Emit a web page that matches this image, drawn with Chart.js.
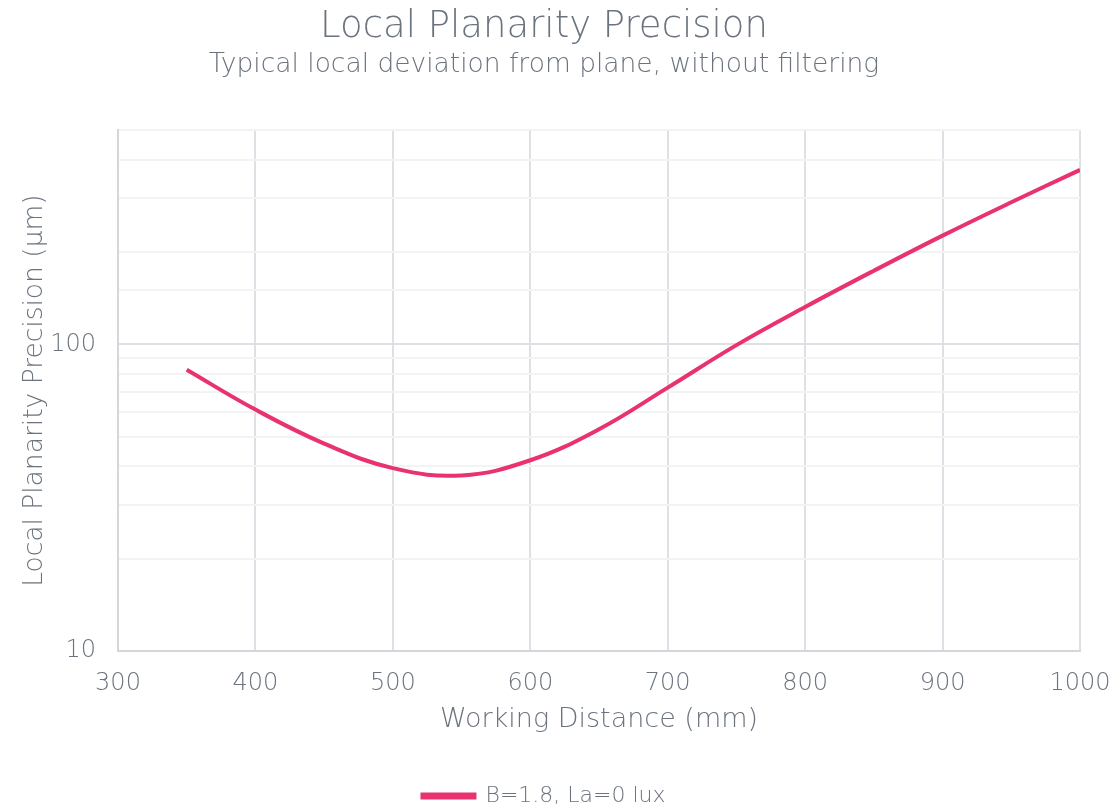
<!DOCTYPE html>
<html>
<head>
<meta charset="utf-8">
<script src="https://cdn.jsdelivr.net/npm/chart.js@4.4.0/dist/chart.umd.min.js"></script>
<style>
  html, body { margin: 0; padding: 0; background: #fff; }
  #wrap { width: 1117px; height: 810px; }
</style>
</head>
<body>
<div id="wrap"><canvas id="chart"></canvas></div>
<script>
// working distance (mm) and local planarity precision (µm)
const distances = [350, 400, 450, 500, 550, 600, 650, 700, 750, 800, 850, 900, 950, 1000];
const precision = [82.7, 61.3, 47.5, 39.5, 37.4, 41.9, 52.9, 72.3, 99.5, 132.5, 174, 226.5, 291, 371];
const xTicks = [300, 400, 500, 600, 700, 800, 900, 1000];
const yLabels = [10, 100];
const seriesName = 'B=1.8, La=0 lux';

const grey = '#6b737e';
const fontFamily = "'DejaVu Sans', sans-serif";
const lineColor = '#e8336f';

const ctx = document.getElementById('chart').getContext('2d');
new Chart(ctx, {
    type: 'line',
    data: {
        datasets: [{
            label: seriesName,
            data: distances.map((d, i) => ({ x: d, y: precision[i] })),
            borderColor: lineColor,
            backgroundColor: lineColor,
            borderWidth: 4,
            pointRadius: 0,
            tension: 0.4,
            fill: false
        }]
    },
    options: {
        responsive: true,
        maintainAspectRatio: false,
        animation: false,
        layout: { padding: { left: 8, right: 37, top: 0, bottom: -7 } },
        scales: {
            x: {
                type: 'linear',
                min: 300,
                max: 1000,
                afterBuildTicks: (scale) => { scale.ticks = xTicks.map(v => ({ value: v })); },
                grid: { color: '#dde0e4', lineWidth: 2, drawTicks: false },
                border: { color: '#d3d6db', width: 2 },
                ticks: {
                    color: grey,
                    font: { family: fontFamily, size: 24, weight: 200 },
                    padding: 18,
                    callback: (v) => String(v)
                },
                title: {
                    display: true,
                    text: 'Working Distance (mm)',
                    color: grey,
                    font: { family: fontFamily, size: 27, weight: 200 },
                    padding: { top: 0, bottom: 47 }
                },
                afterFit: (scale) => {
                    scale.height = 132;
                    scale.paddingLeft = 0;
                    scale.paddingRight = 0;
                }
            },
            y: {
                type: 'logarithmic',
                min: 10,
                max: 500,
                grid: {
                    color: (c) => yLabels.includes(c.tick.value) ? '#dde0e4' : '#f2f3f4',
                    lineWidth: 2,
                    drawTicks: false
                },
                border: { color: '#d3d6db', width: 2 },
                ticks: {
                    color: grey,
                    font: { family: fontFamily, size: 24, weight: 200 },
                    padding: 22,
                    autoSkip: false,
                    callback: (v) => yLabels.includes(v) ? String(v) : ''
                },
                title: {
                    display: true,
                    text: 'Local Planarity Precision (µm)',
                    color: grey,
                    font: { family: fontFamily, size: 26.5, weight: 200 },
                    padding: { top: 11, bottom: 0 }
                },
                afterFit: (scale) => {
                    scale.width = 110;
                    scale.paddingTop = 0;
                    scale.paddingBottom = 0;
                }
            }
        },
        plugins: {
            title: {
                display: true,
                text: 'Local Planarity Precision',
                color: grey,
                font: { family: fontFamily, size: 37, weight: 200 },
                padding: { top: 5, bottom: 0 }
            },
            subtitle: {
                display: true,
                text: 'Typical local deviation from plane, without filtering',
                color: grey,
                font: { family: fontFamily, size: 26.5, weight: 200 },
                padding: { top: 0, bottom: 49 }
            },
            legend: {
                position: 'bottom',
                labels: {
                    color: grey,
                    font: { family: fontFamily, size: 22, weight: 200 },
                    boxWidth: 52,
                    boxHeight: 3,
                    padding: 2
                }
            },
            tooltip: { enabled: false }
        }
    }
});
</script>
</body>
</html>
